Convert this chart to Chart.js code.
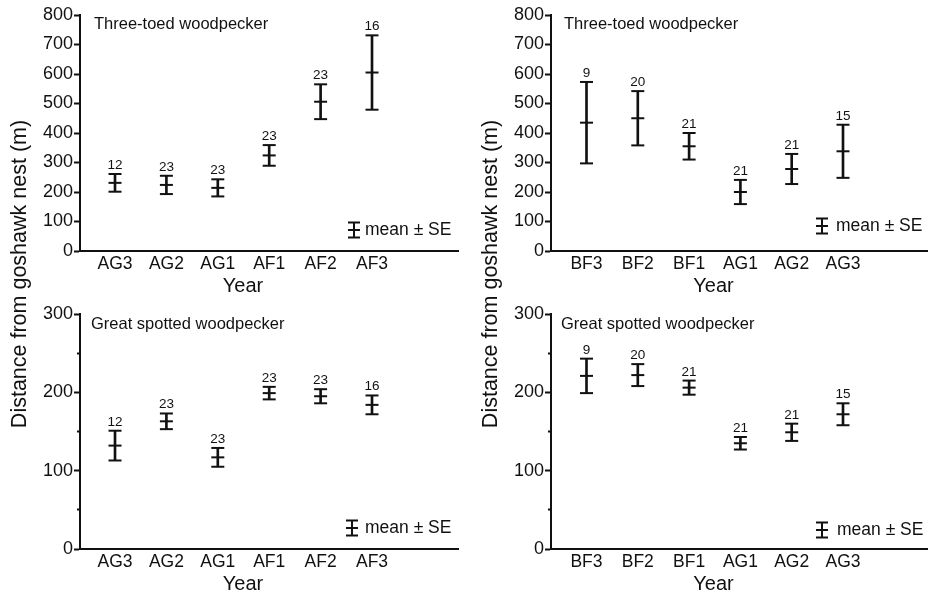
<!DOCTYPE html>
<html><head><meta charset="utf-8">
<script src="https://cdn.jsdelivr.net/npm/chart.js@4.4.1/dist/chart.umd.min.js"></script>
<style>
html,body{margin:0;padding:0;background:#fff;}
body{width:928px;height:593px;position:relative;overflow:hidden;font-family:"Liberation Sans",Arial,sans-serif;}
.panel{position:absolute;}
.ytitle{position:absolute;width:400px;height:26px;line-height:26px;font-size:21.5px;text-align:center;color:#111;transform:rotate(-90deg);white-space:nowrap;}
</style></head><body>
<div class="panel" style="left:0;top:0;width:480px;height:296px"><canvas id="c1"></canvas></div>
<div class="panel" style="left:464px;top:0;width:480px;height:296px"><canvas id="c2"></canvas></div>
<div class="panel" style="left:0;top:296px;width:480px;height:297px"><canvas id="c3"></canvas></div>
<div class="panel" style="left:464px;top:296px;width:480px;height:297px"><canvas id="c4"></canvas></div>
<div class="ytitle" style="left:-181.5px;top:261px">Distance from goshawk nest (m)</div>
<div class="ytitle" style="left:289.5px;top:261px">Distance from goshawk nest (m)</div>
<script>
// ---- data ----
const leftYears = ['AG3', 'AG2', 'AG1', 'AF1', 'AF2', 'AF3'];
const rightYears = ['BF3', 'BF2', 'BF1', 'AG1', 'AG2', 'AG3'];

const threeToedLeftMean = [231, 224, 214, 324, 506, 605];
const threeToedLeftSE   = [30, 31, 29, 35, 59, 126];
const threeToedLeftN    = [12, 23, 23, 23, 23, 16];

const threeToedRightMean = [435, 450, 355, 200, 278, 338];
const threeToedRightSE   = [138, 92, 45, 41, 51, 90];
const threeToedRightN    = [9, 20, 21, 21, 21, 15];

const greatSpottedLeftMean = [132, 163, 117, 199, 195, 184];
const greatSpottedLeftSE   = [19, 10, 12, 8, 9, 12];
const greatSpottedLeftN    = [12, 23, 23, 23, 23, 16];

const greatSpottedRightMean = [221, 222, 206, 135, 149, 172];
const greatSpottedRightSE   = [22, 14, 9, 8, 11, 14];
const greatSpottedRightN    = [9, 20, 21, 21, 21, 15];

const topYTicks = [0, 100, 200, 300, 400, 500, 600, 700, 800];
const bottomYTicks = [0, 100, 200, 300];

const INK = '#111';
Chart.defaults.font.family = '"Liberation Sans", Arial, sans-serif';
Chart.defaults.color = INK;

const annot = {
  id: 'annot',
  afterDatasetsDraw(chart, args, o) {
    const {ctx, chartArea: a, scales: {x, y}} = chart;
    ctx.save();
    ctx.fillStyle = INK;
    ctx.font = '13.5px "Liberation Sans", Arial, sans-serif';
    ctx.textAlign = 'center';
    ctx.textBaseline = 'alphabetic';
    o.n.forEach((n, i) => {
      ctx.fillText(String(n), x.getPixelForValue(i), y.getPixelForValue(o.mean[i] + o.se[i]) - 5);
    });
    // x-axis title
    ctx.font = '20px "Liberation Sans", Arial, sans-serif';
    ctx.textBaseline = 'middle';
    ctx.fillText('Year', (a.left + a.right) / 2 - 26, a.bottom + 35);
    // panel title
    ctx.textAlign = 'left';
    ctx.textBaseline = 'alphabetic';
    ctx.font = '16.5px "Liberation Sans", Arial, sans-serif';
    ctx.fillText(o.title, a.left + o.titleDx, a.top + o.titleDy);
    // legend key
    const lx = a.right - o.legDx, ly = a.bottom - o.legDy, h = 7.5, w = 6;
    ctx.strokeStyle = INK; ctx.lineWidth = 2;
    ctx.beginPath();
    ctx.moveTo(lx, ly - h); ctx.lineTo(lx, ly + h);
    ctx.moveTo(lx - w, ly - h); ctx.lineTo(lx + w, ly - h);
    ctx.moveTo(lx - w, ly); ctx.lineTo(lx + w, ly);
    ctx.moveTo(lx - w, ly + h); ctx.lineTo(lx + w, ly + h);
    ctx.stroke();
    ctx.font = '17.5px "Liberation Sans", Arial, sans-serif';
    ctx.textBaseline = 'middle';
    ctx.fillText('mean \u00b1 SE', a.right - o.legTx, ly);
    ctx.restore();
  }
};

function panel(id, o) {
  const g = o.box, ar = o.area, cats = o.cats;
  new Chart(document.getElementById(id), {
    type: 'bar',
    data: {
      datasets: [
        {
          type: 'bar',
          data: cats.map((c, i) => ({x: i, y: [o.mean[i] - o.se[i], o.mean[i] + o.se[i]]})),
          backgroundColor: INK, borderWidth: 0, barThickness: 2, order: 2
        },
        {
          type: 'scatter',
          data: cats.flatMap((c, i) => [
            {x: i, y: o.mean[i]}, {x: i, y: o.mean[i] + o.se[i]}, {x: i, y: o.mean[i] - o.se[i]}
          ]),
          pointStyle: 'line', pointRadius: 6.5, pointBorderWidth: 2,
          borderColor: INK, backgroundColor: INK, showLine: false, order: 1
        }
      ]
    },
    options: {
      responsive: true, maintainAspectRatio: false, animation: false, events: [],
      layout: {padding: {left: 0, right: (g.l + g.w) - ar.r, top: ar.t - g.t, bottom: 0}},
      plugins: {
        legend: {display: false}, tooltip: {enabled: false},
        annot: {n: o.n, mean: o.mean, se: o.se, title: o.title, titleDx: o.titleDx, titleDy: o.titleDy,
                legDx: o.legDx, legDy: o.legDy, legTx: o.legTx}
      },
      scales: {
        x: {
          type: 'linear', min: o.xmin, max: o.xmax, offset: false,
          grid: {display: false, drawTicks: false, offset: false},
          border: {display: true, color: INK, width: 2},
          afterBuildTicks: a => { a.ticks = cats.map((c, i) => ({value: i})); },
          afterFit: a => { a.height = (g.t + g.h) - ar.b; a.paddingLeft = 0; a.paddingRight = 0; },
          ticks: {autoSkip: false, maxRotation: 0, padding: 3, color: INK, font: {size: 17.5},
                  callback: v => cats[Math.round(v)]},
          title: {display: false}
        },
        y: {
          type: 'linear', min: 0, max: o.yticks[o.yticks.length - 1],
          afterFit: a => { a.width = ar.l - g.l; },
          grid: {display: true, drawOnChartArea: false, drawTicks: true, tickLength: 6, tickWidth: 2, tickColor: INK,
                 tickBorderDash: c => (c.tick && !o.yticks.includes(c.tick.value)) ? [0, 3, 10, 0] : []},
          border: {display: true, color: INK, width: 2},
          ticks: {stepSize: 50, padding: 1, color: INK, font: {size: 18},
                  callback: v => o.yticks.includes(v) ? String(v) : ''}
        }
      }
    },
    plugins: [annot]
  });
}

panel('c1', {cats: leftYears, mean: threeToedLeftMean, se: threeToedLeftSE, n: threeToedLeftN, yticks: topYTicks,
  title: 'Three-toed woodpecker', box: {l: 0, t: 0, w: 480, h: 296}, area: {l: 80, r: 458, t: 15, b: 251},
  xmin: -0.681, xmax: 6.673, titleDx: 14, titleDy: 13.5, legDx: 104, legDy: 21, legTx: 93});
panel('c2', {cats: rightYears, mean: threeToedRightMean, se: threeToedRightSE, n: threeToedRightN, yticks: topYTicks,
  title: 'Three-toed woodpecker', box: {l: 464, t: 0, w: 480, h: 296}, area: {l: 551, r: 928, t: 15, b: 251},
  xmin: -0.692, xmax: 6.657, titleDx: 13, titleDy: 13.5, legDx: 106, legDy: 25, legTx: 92});
panel('c3', {cats: leftYears, mean: greatSpottedLeftMean, se: greatSpottedLeftSE, n: greatSpottedLeftN, yticks: bottomYTicks,
  title: 'Great spotted woodpecker', box: {l: 0, t: 296, w: 480, h: 297}, area: {l: 80, r: 458, t: 314, b: 549},
  xmin: -0.681, xmax: 6.673, titleDx: 11, titleDy: 15.3, legDx: 106, legDy: 21, legTx: 93});
panel('c4', {cats: rightYears, mean: greatSpottedRightMean, se: greatSpottedRightSE, n: greatSpottedRightN, yticks: bottomYTicks,
  title: 'Great spotted woodpecker', box: {l: 464, t: 296, w: 480, h: 297}, area: {l: 551, r: 928, t: 314, b: 549},
  xmin: -0.692, xmax: 6.657, titleDx: 10, titleDy: 15, legDx: 106, legDy: 19, legTx: 91});
</script>
</body></html>
